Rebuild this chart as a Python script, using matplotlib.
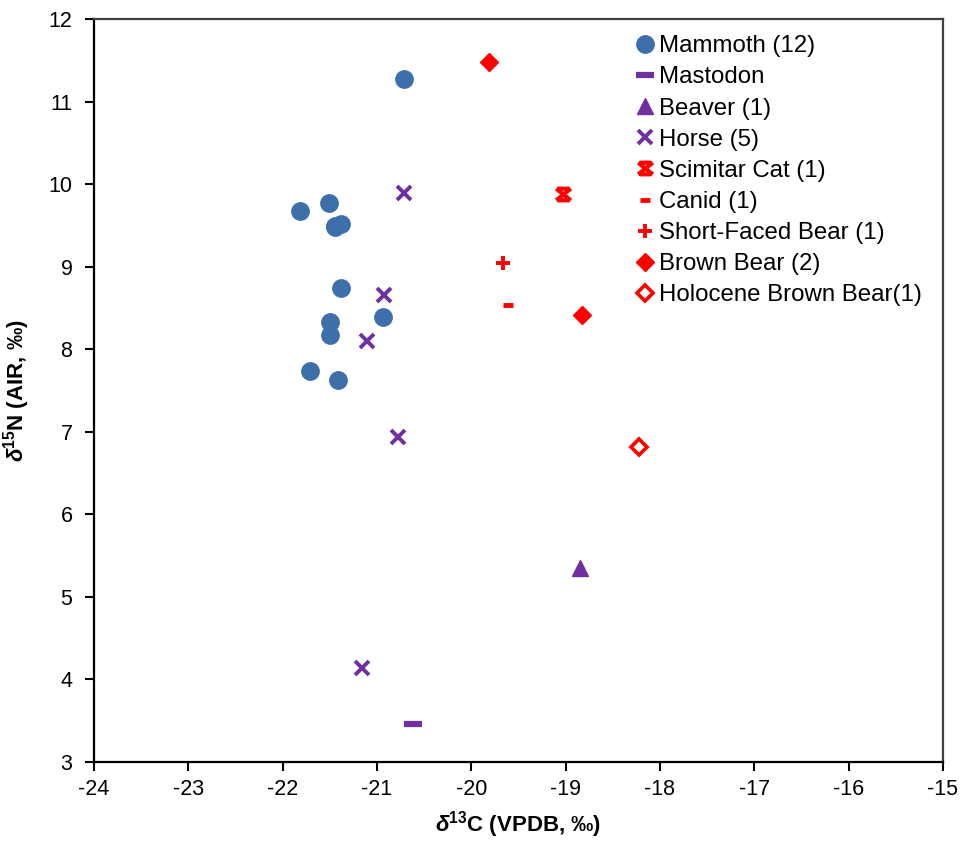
import numpy as np
import matplotlib.pyplot as plt
from matplotlib.path import Path

plt.rcParams['font.family'] = ['Liberation Sans', 'DejaVu Sans']
plt.rcParams['axes.unicode_minus'] = False
plt.rcParams['mathtext.fontset'] = 'custom'
plt.rcParams['mathtext.rm'] = 'Liberation Sans'
plt.rcParams['mathtext.bf'] = 'Liberation Sans:bold'
plt.rcParams['mathtext.bfit'] = 'Liberation Sans:bold:italic'

BLUE = "#3D6FAB"
PURPLE = "#7030A0"
RED = "#FF0000"

# d13C / d15N values per taxon
mammoth_c = [-20.71, -21.82, -21.51, -21.45, -21.38, -21.38, -20.94, -21.50, -21.50, -21.71, -21.41, -21.45]
mammoth_n = [11.27, 9.67, 9.77, 9.48, 9.52, 8.74, 8.39, 8.33, 8.17, 7.74, 7.63, 9.49]
mastodon_c = [-20.62]
mastodon_n = [3.46]
beaver_c = [-18.85]
beaver_n = [5.35]
horse_c = [-20.71, -20.93, -21.11, -20.78, -21.16]
horse_n = [9.89, 8.66, 8.10, 6.94, 4.14]
scimitar_c = [-19.03]
scimitar_n = [9.88]
canid_c = [-19.61]
canid_n = [8.54]
sfbear_c = [-19.66]
sfbear_n = [9.04]
brown_c = [-19.81, -18.83]
brown_n = [11.48, 8.41]
holo_c = [-18.22]
holo_n = [6.82]

x_ticks = np.arange(-24, -14, 1)
y_ticks = np.arange(3, 13, 1)

# X with short caps top and bottom
cat_marker = Path(
    [(-1, -0.8), (1, 0.8), (-1, 0.8), (1, -0.8),
     (-0.8, 0.8), (0.8, 0.8), (-0.8, -0.8), (0.8, -0.8)],
    [Path.MOVETO, Path.LINETO] * 4,
)

fig = plt.figure(figsize=(9.65, 8.42), dpi=100)
ax = fig.add_axes([0.0974, 0.0950, 0.8798, 0.8824])

ax.plot(mammoth_c, mammoth_n, ls='none', marker='o', ms=12.5, color=BLUE,
        mec=BLUE, label='Mammoth (12)')
ax.plot(mastodon_c, mastodon_n, ls='none', marker='_', ms=13, mew=4.5,
        color=PURPLE, label='Mastodon')
ax.plot(beaver_c, beaver_n, ls='none', marker='^', ms=12, color=PURPLE,
        label='Beaver (1)')
ax.plot(horse_c, horse_n, ls='none', marker='x', ms=10.5, mew=2.8,
        color=PURPLE, label='Horse (5)')
ax.plot(scimitar_c, scimitar_n, ls='none', marker=cat_marker, ms=10.5, mew=3,
        color=RED, label='Scimitar Cat (1)')
ax.plot(canid_c, canid_n, ls='none', marker='_', ms=7, mew=3.5,
        color=RED, label='Canid (1)')
ax.plot(sfbear_c, sfbear_n, ls='none', marker='+', ms=10.5, mew=2.8,
        color=RED, label='Short-Faced Bear (1)')
ax.plot(brown_c, brown_n, ls='none', marker='D', ms=9.5, color=RED,
        label='Brown Bear (2)')
ax.plot(holo_c, holo_n, ls='none', marker='D', ms=8, mfc='white', mec=RED,
        mew=2.6, label='Holocene Brown Bear(1)')

ax.set_xlim(-24, -15)
ax.set_ylim(3, 12)
ax.set_xticks(x_ticks)
ax.set_yticks(y_ticks)
ax.tick_params(direction='out', length=6.5, width=1.5, labelsize=15.5,
               color='black')
ax.tick_params(axis='x', pad=6)
ax.tick_params(axis='y', pad=9)

for side in ('left', 'bottom'):
    ax.spines[side].set_linewidth(1.6)
    ax.spines[side].set_color('black')
for side in ('top', 'right'):
    ax.spines[side].set_linewidth(1.6)
    ax.spines[side].set_color('#404040')

ax.set_xlabel(r'$\mathbfit{\delta}^{\mathbf{13}}$C (VPDB, ‰)',
              fontsize=16, fontweight='bold', labelpad=6)
ax.set_ylabel(r'$\mathbfit{\delta}^{\mathbf{15}}$N (AIR, ‰)',
              fontsize=16, fontweight='bold', labelpad=12)

ax.legend(loc='upper left', bbox_to_anchor=(0.626, 0.991), frameon=False,
          fontsize=17.3, handlelength=0.8, handletextpad=0.2,
          labelspacing=0.38, borderaxespad=0, numpoints=1)

fig.savefig('out.png', dpi=100)
